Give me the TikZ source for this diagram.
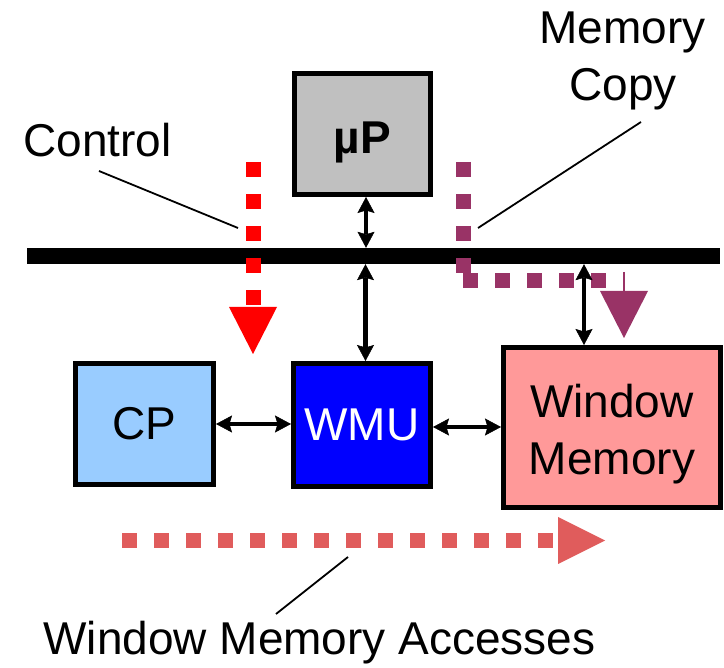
\documentclass[tikz,border=0pt]{standalone}
\usepackage{fontspec}
\setmainfont{Liberation Sans}
\usetikzlibrary{arrows.meta}
\definecolor{upgray}{HTML}{C0C0C0}
\definecolor{cpblue}{HTML}{99CCFF}
\definecolor{wmublue}{HTML}{0000FF}
\definecolor{wmpink}{HTML}{FF9999}
\definecolor{ctlred}{HTML}{FF0000}
\definecolor{copyplum}{HTML}{993366}
\definecolor{accsalmon}{HTML}{E05C5C}
\begin{document}
\begin{tikzpicture}[x=1pt,y=-1pt,
  every node/.style={inner sep=0pt},
  txt/.style={font=\fontsize{46}{57}\selectfont},
  unit/.style={draw=black, line width=5pt, txt, align=center},
  tip/.tip={Stealth[length=16pt,width=17pt,inset=2.5pt,line width=0.5pt]},
  link/.style={line width=4.5pt, tip-tip},
  flow/.style={line width=15pt, dash pattern=on 15pt off 17pt},
  leader/.style={line width=1.8pt}]
\useasboundingbox (0,0) rectangle (724,668);

% system bus
\node[fill=black, minimum width=693pt, minimum height=16pt] (bus) at (373.5,256) {};

% functional units
\node[unit, fill=upgray, minimum width=136pt, minimum height=121pt] (up) at (362.5,134)
  {\rule{0pt}{49pt}\textbf{µP}};
\node[unit, fill=cpblue, minimum width=138pt, minimum height=121pt] (cp) at (144.5,424) {CP};
\node[unit, fill=wmublue, text=white, minimum width=137pt, minimum height=123pt] (wmu) at (362,425) {WMU};
\node[unit, fill=wmpink, minimum width=217pt, minimum height=160pt] (wm) at (612,427.5)
  {\rule{0pt}{47pt}Window\\Memory};

% labels
\node[txt, anchor=base] (ctl) at (97.5,157) {Control};
\node[txt, anchor=base] (mcopy1) at (622.5,44) {Memory};
\node[txt, anchor=base] (mcopy2) at (623,101) {Copy};
\node[txt, anchor=base] (wma) at (319.5,655) {Window Memory Accesses};

% flows
\draw[flow, ctlred] (253,162) -- (253,305);
\fill[ctlred] (229,307) -- (277,307) -- (253,354) -- cycle;

\draw[flow, copyplum] (463,162) -- (463,273);
\draw[flow, copyplum] (463,280.5) -- (607,280.5);
\draw[copyplum, line width=2pt] (624,272) -- (624,292);
\fill[copyplum] (600,291) -- (648,291) -- (624,338) -- cycle;

\draw[flow, accsalmon] (122,540.5) -- (554,540.5);
\fill[accsalmon] (558,517) -- (558,564) -- (605,540.5) -- cycle;

% bus connections
\draw[link] ([xshift=3.5pt]up.south) -- ([xshift=3.5pt]up.south |- bus.north);
\draw[link] ([xshift=3.5pt]wmu.north |- bus.south) -- ([xshift=3.5pt]wmu.north);
\draw[link] ([xshift=-28pt]wm.north |- bus.south) -- ([xshift=-28pt]wm.north);
\draw[link] (cp.east) -- (cp.east -| wmu.west);
\draw[link] (wmu.east |- 0,427) -- (wm.west |- 0,427);

% leader lines
\coordinate (ctlA) at (99,171);
\coordinate (ctlB) at (238,228);
\coordinate (cpyA) at (641,122);
\coordinate (cpyB) at (478,228);
\coordinate (accA) at (348,557);
\coordinate (accB) at (276,614);
\draw[leader] (ctlA) -- (ctlB);
\draw[leader] (cpyA) -- (cpyB);
\draw[leader] (accA) -- (accB);
\end{tikzpicture}
\end{document}
